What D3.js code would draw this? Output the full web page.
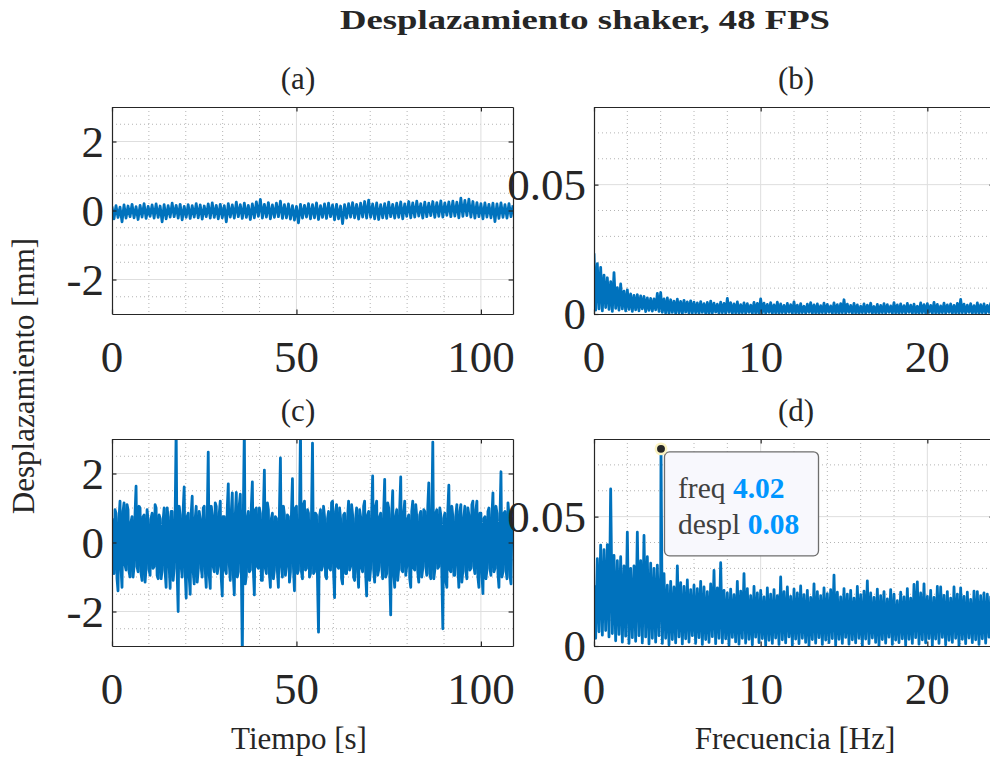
<!DOCTYPE html>
<html>
<head>
<meta charset="utf-8">
<script src="https://cdn.jsdelivr.net/npm/d3@7"></script>
<style>
  body { margin: 0; background: #ffffff; }
  svg text { font-family: "Liberation Serif", "Times New Roman", serif; fill: #262626; }
</style>
</head>
<body>
<svg id="fig" width="990" height="759"></svg>
<script>
// ---- text ----
const figTitle = "Desplazamiento shaker, 48 FPS";
const panelLabels = ["(a)", "(b)", "(c)", "(d)"];
const timeLabel = "Tiempo [s]";
const freqLabel = "Frecuencia [Hz]";
const dispLabel = "Desplazamiento [mm]";

// ---- axes ----
const duration = 108.7;      // record length [s]
const freqStep = 0.1;        // spectral resolution of the stored samples [Hz]
const freqMax = 24;          // Nyquist at 48 FPS [Hz]
const timeTicks = [0, 50, 100];
const dispTicks = [-2, 0, 2];
const freqTicks = [0, 10, 20];
const ampTicks = [0, 0.05];

// ---- (a) displacement, time domain [mm] ----
const dispA = [
  0.12,-0.24,0.14,-0.20,0.10,-0.33,0.16,-0.22,0.13,-0.18,
  0.18,-0.21,0.11,-0.26,0.15,-0.19,0.20,-0.23,0.12,-0.17,
  0.16,-0.22,0.19,-0.20,0.13,-0.33,0.17,-0.24,0.14,-0.19,
  0.21,-0.18,0.15,-0.22,0.18,-0.27,0.12,-0.20,0.17,-0.23,
  0.14,-0.19,0.20,-0.21,0.16,-0.25,0.13,-0.18,0.19,-0.22,
  0.22,-0.20,0.15,-0.24,0.18,-0.21,0.14,-0.33,0.20,-0.19,
  0.16,-0.22,0.24,-0.18,0.17,-0.23,0.21,-0.20,0.15,-0.26,
  0.19,-0.21,0.25,-0.17,0.32,-0.22,0.18,-0.19,0.23,-0.24,
  0.16,-0.20,0.21,-0.18,0.27,-0.23,0.17,-0.21,0.19,-0.25,
  0.14,-0.28,0.12,-0.36,0.18,-0.22,0.15,-0.19,0.20,-0.24,
  0.17,-0.21,0.22,-0.26,0.14,-0.20,0.19,-0.23,0.21,-0.18,
  0.16,-0.27,0.18,-0.24,0.13,-0.38,0.17,-0.22,0.20,-0.19,
  0.23,-0.21,0.18,-0.25,0.21,-0.19,0.26,-0.22,0.30,-0.20,
  0.19,-0.24,0.22,-0.26,0.17,-0.21,0.20,-0.23,0.24,-0.18,
  0.18,-0.22,0.21,-0.20,0.25,-0.24,0.19,-0.17,0.26,-0.21,
  0.22,-0.19,0.27,-0.16,0.20,-0.22,0.24,-0.18,0.21,-0.15,
  0.26,-0.20,0.23,-0.17,0.28,-0.19,0.22,-0.14,0.25,-0.18,
  0.27,-0.16,0.24,-0.21,0.36,-0.17,0.29,-0.15,0.33,-0.19,
  0.26,-0.22,0.23,-0.18,0.20,-0.24,0.22,-0.19,0.18,-0.21,
  0.21,-0.32,0.19,-0.23,0.22,-0.20,0.17,-0.22,0.20,-0.18,
  0.15
];

// ---- (c) displacement, time domain [mm] ----
const dispC = [
  0.70,-0.80,-0.90,0.95,0.85,-1.05,-1.40,0.70,1.20,-0.75,-1.30,0.90,1.15,-0.65,-0.80,1.10,0.95,-0.85,-1.00,0.60,
  0.75,-1.00,-0.70,0.85,1.63,-0.70,-0.85,1.05,1.00,-0.90,-1.10,0.75,0.80,-1.15,-0.75,0.95,0.65,-0.80,-0.95,0.70,
  0.85,-0.75,-0.70,1.10,1.00,-0.95,-1.05,0.80,0.70,-1.05,-0.80,0.65,1.00,-0.85,-1.30,1.00,0.75,-0.70,-1.33,0.90,
  0.90,-1.10,-0.75,0.80,3.30,-0.90,-2.00,1.05,0.80,-0.70,-1.00,0.95,1.61,-0.85,-1.61,0.75,0.85,-1.00,-1.50,0.85,
  1.34,-0.85,-1.20,0.70,1.05,-1.15,-0.80,0.90,0.70,-0.75,-1.00,1.00,1.05,-0.80,-1.30,0.65,2.62,-0.95,-1.33,1.05,
  0.80,-0.70,-0.85,1.15,1.05,-0.90,-0.70,0.85,1.20,-1.05,-1.55,0.75,0.75,-0.80,-0.90,1.00,1.70,-0.65,-1.10,0.90,
  1.44,-0.95,-1.52,0.80,1.45,-1.00,-0.85,1.10,1.40,-0.75,-3.30,0.85,3.30,-1.20,-0.95,0.70,0.90,-0.85,-0.80,1.05,
  1.76,-0.80,-1.52,0.95,1.00,-0.70,-0.75,1.00,0.85,-1.10,-1.10,0.85,2.10,-0.75,-0.90,1.15,0.95,-0.90,-1.30,0.70,
  0.85,-1.05,-0.80,0.75,0.70,-0.85,-1.30,0.90,2.45,-0.70,-1.00,1.05,0.80,-0.95,-0.70,0.80,0.75,-1.15,-0.85,0.85,
  1.85,-0.75,-1.40,1.00,1.05,-0.90,-0.80,0.70,3.30,-0.85,-1.05,1.10,1.20,-0.80,-0.75,0.95,0.85,-1.00,-0.90,0.75,
  2.88,-0.90,-0.85,0.85,0.80,-1.10,-2.60,0.75,0.95,-0.80,-0.70,1.05,0.75,-0.95,-1.05,0.70,0.90,-0.75,-0.80,1.15,
  1.20,-0.85,-1.60,0.90,1.10,-0.70,-0.75,1.00,0.70,-1.05,-1.20,0.80,0.85,-0.90,-0.90,0.75,1.20,-0.80,-0.70,1.10,
  0.80,-1.00,-1.10,0.70,1.00,-0.85,-1.30,0.95,0.75,-0.75,-0.85,1.05,1.20,-0.90,-1.55,0.80,0.90,-1.10,-0.75,0.85,
  1.93,-0.80,-1.15,1.05,1.20,-0.95,-0.80,0.75,0.85,-0.70,-1.05,0.90,1.83,-1.00,-0.90,1.15,1.00,-0.85,-2.10,0.80,
  1.50,-0.90,-1.30,0.75,0.95,-1.10,-0.75,1.00,1.90,-0.80,-0.85,0.85,1.20,-0.95,-0.70,0.70,0.80,-1.05,-1.30,0.90,
  1.20,-0.75,-0.80,1.10,0.75,-0.85,-1.15,0.80,0.90,-1.00,-0.75,0.95,0.90,-0.70,-0.95,1.05,1.73,-0.90,-1.05,0.75,
  2.91,-1.05,-0.80,0.85,0.95,-0.75,-0.70,1.00,0.80,-0.90,-2.50,0.70,0.85,-1.10,-1.30,0.95,1.66,-0.80,-0.85,1.05,
  0.75,-0.95,-0.95,0.80,1.10,-0.70,-1.30,0.90,1.10,-1.15,-0.80,0.75,1.05,-0.85,-1.05,1.00,0.80,-0.80,-0.75,1.10,
  1.20,-0.70,-0.90,0.95,1.20,-1.00,-1.30,0.85,0.85,-0.90,-1.48,0.70,0.75,-1.05,-0.80,0.90,1.00,-0.75,-0.95,0.80,
  1.44,-0.85,-0.75,1.05,0.85,-0.90,-1.30,0.75,2.05,-1.00,-0.85,0.85,0.90,-0.80,-1.05,1.15,0.80,-0.95,-1.20,0.70,
  0.60
];

// ---- (b) amplitude spectrum of (a) [mm], one value per freqStep ----
const specB = [
  0.0235,0.0015,0.0195,0.0020,0.0180,0.0012,0.0150,0.0025,0.0140,0.0018,
  0.0125,0.0010,0.0160,0.0022,0.0102,0.0015,0.0116,0.0020,0.0088,0.0012,
  0.0093,0.0018,0.0078,0.0010,0.0072,0.0016,0.0075,0.0012,0.0070,0.0020,
  0.0068,0.0009,0.0062,0.0014,0.0060,0.0011,0.0058,0.0016,0.0080,0.0010,
  0.0083,0.0006,0.0058,0.0004,0.0062,0.0002,0.0055,0.0006,0.0050,0.0003,
  0.0057,0.0005,0.0049,0.0002,0.0053,0.0007,0.0047,0.0003,0.0051,0.0004,
  0.0046,0.0005,0.0043,0.0002,0.0048,0.0006,0.0040,0.0003,0.0045,0.0001,
  0.0050,0.0004,0.0042,0.0007,0.0038,0.0002,0.0046,0.0005,0.0041,0.0003,
  0.0060,0.0006,0.0044,0.0002,0.0039,0.0004,0.0047,0.0001,0.0036,0.0005,
  0.0043,0.0003,0.0040,0.0006,0.0034,0.0002,0.0045,0.0004,0.0041,0.0001,
  0.0058,0.0005,0.0042,0.0003,0.0037,0.0006,0.0044,0.0002,0.0035,0.0004,
  0.0046,0.0001,0.0039,0.0005,0.0033,0.0003,0.0041,0.0006,0.0036,0.0002,
  0.0047,0.0004,0.0034,0.0001,0.0040,0.0005,0.0030,0.0003,0.0038,0.0006,
  0.0044,0.0002,0.0035,0.0004,0.0039,0.0001,0.0032,0.0005,0.0042,0.0003,
  0.0037,0.0006,0.0031,0.0002,0.0043,0.0004,0.0036,0.0001,0.0040,0.0005,
  0.0055,0.0003,0.0038,0.0006,0.0033,0.0002,0.0041,0.0004,0.0035,0.0001,
  0.0030,0.0005,0.0039,0.0003,0.0034,0.0006,0.0042,0.0002,0.0029,0.0004,
  0.0037,0.0001,0.0033,0.0005,0.0040,0.0003,0.0036,0.0006,0.0031,0.0002,
  0.0044,0.0004,0.0035,0.0001,0.0039,0.0005,0.0032,0.0003,0.0041,0.0006,
  0.0034,0.0002,0.0038,0.0004,0.0030,0.0001,0.0043,0.0005,0.0036,0.0003,
  0.0040,0.0006,0.0033,0.0002,0.0045,0.0004,0.0037,0.0001,0.0031,0.0005,
  0.0042,0.0003,0.0035,0.0006,0.0039,0.0002,0.0033,0.0004,0.0041,0.0001,
  0.0056,0.0005,0.0038,0.0003,0.0034,0.0006,0.0040,0.0002,0.0032,0.0004,
  0.0043,0.0001,0.0036,0.0005,0.0039,0.0003,0.0033,0.0006,0.0041,0.0002,
  0.0037
];

// ---- (d) amplitude spectrum of (c) [mm], one value per freqStep ----
const specD = [
  0.0235,0.0030,0.0338,0.0055,0.0390,0.0042,0.0372,0.0060,0.0392,0.0035,
  0.0607,0.0048,0.0350,0.0020,0.0330,0.0045,0.0345,0.0015,0.0310,0.0038,
  0.0440,0.0010,0.0300,0.0032,0.0310,0.0018,0.0440,0.0040,0.0330,0.0012,
  0.0427,0.0035,0.0345,0.0008,0.0320,0.0030,0.0300,0.0015,0.0312,0.0040,
  0.0290,0.0010,0.0280,0.0030,0.0235,0.0005,0.0250,0.0025,0.0228,0.0012,
  0.0310,0.0035,0.0245,0.0008,0.0230,0.0028,0.0255,0.0015,0.0218,0.0040,
  0.0235,0.0010,0.0222,0.0032,0.0250,0.0006,0.0228,0.0025,0.0210,0.0014,
  0.0240,0.0036,0.0292,0.0009,0.0225,0.0030,0.0322,0.0012,0.0215,0.0028,
  0.0205,0.0004,0.0220,0.0033,0.0198,0.0016,0.0250,0.0007,0.0212,0.0030,
  0.0280,0.0011,0.0222,0.0026,0.0195,0.0005,0.0230,0.0034,0.0205,0.0013,
  0.0215,0.0029,0.0190,0.0003,0.0225,0.0022,0.0200,0.0010,0.0218,0.0031,
  0.0195,0.0006,0.0267,0.0024,0.0210,0.0012,0.0228,0.0035,0.0192,0.0004,
  0.0220,0.0027,0.0205,0.0009,0.0232,0.0030,0.0198,0.0014,0.0215,0.0002,
  0.0188,0.0025,0.0240,0.0011,0.0210,0.0032,0.0195,0.0006,0.0225,0.0023,
  0.0202,0.0013,0.0218,0.0029,0.0274,0.0004,0.0208,0.0026,0.0190,0.0010,
  0.0222,0.0033,0.0200,0.0007,0.0215,0.0024,0.0185,0.0012,0.0230,0.0030,
  0.0198,0.0003,0.0212,0.0027,0.0252,0.0009,0.0205,0.0031,0.0188,0.0014,
  0.0220,0.0002,0.0195,0.0025,0.0210,0.0011,0.0182,0.0034,0.0218,0.0006,
  0.0200,0.0023,0.0175,0.0013,0.0208,0.0028,0.0190,0.0004,0.0222,0.0026,
  0.0185,0.0010,0.0238,0.0032,0.0248,0.0007,0.0205,0.0024,0.0240,0.0012,
  0.0192,0.0029,0.0215,0.0003,0.0188,0.0027,0.0230,0.0010,0.0228,0.0033,
  0.0196,0.0005,0.0210,0.0022,0.0185,0.0014,0.0228,0.0030,0.0200,0.0002,
  0.0225,0.0026,0.0192,0.0009,0.0208,0.0031,0.0180,0.0013,0.0212,0.0024,
  0.0210,0.0006,0.0195,0.0028,0.0205,0.0011,0.0200,0.0034,0.0190,0.0004,
  0.0205
];

// data tip on the dominant component of (d)
const tipFreq = 4.02;     // Hz
const tipDespl = 0.0762;  // mm

// ---- series as [x, y] pairs ----
const timeSeries = vals => vals.map((v, i) => [i * duration / (vals.length - 1), v]);
const freqSeries = vals => vals.map((v, i) => [i * freqStep, v]);

const seriesA = timeSeries(dispA);
const seriesC = timeSeries(dispC);
const seriesB = freqSeries(specB);
const seriesD = freqSeries(specD).concat([[tipFreq, tipDespl]]).sort((p, q) => p[0] - q[0]);

// ---- figure ----
const svg = d3.select("#fig");
const lineColor = "#0072BD";
const axisColor = "#262626";
let clipId = 0;

function panel(cfg) {
  const { left, top, width, height } = cfg.box;
  const x = d3.scaleLinear().domain(cfg.xDomain).range([left, left + width]);
  const y = d3.scaleLinear().domain(cfg.yDomain).range([top + height, top]);
  const g = svg.append("g");

  // minor grid (dotted)
  const xMinor = d3.range(cfg.xDomain[0], cfg.xDomain[1] + 1e-9, cfg.xMinorStep)
    .filter(v => v > cfg.xDomain[0] + 1e-9 && v < cfg.xDomain[1] - 1e-9 && !cfg.xTicks.some(t => Math.abs(t - v) < 1e-9));
  const yMinor = d3.range(cfg.yDomain[0], cfg.yDomain[1] + 1e-9, cfg.yMinorStep)
    .map(v => +v.toFixed(6))
    .filter(v => v > cfg.yDomain[0] + 1e-9 && v < cfg.yDomain[1] - 1e-9 && !cfg.yTicks.some(t => Math.abs(t - v) < 1e-9));
  g.selectAll(".xminor").data(xMinor).join("line")
    .attr("x1", d => x(d)).attr("x2", d => x(d)).attr("y1", top).attr("y2", top + height)
    .attr("stroke", "#b4b4b4").attr("stroke-width", 1).attr("stroke-dasharray", "1,3");
  g.selectAll(".yminor").data(yMinor).join("line")
    .attr("x1", left).attr("x2", left + width).attr("y1", d => y(d)).attr("y2", d => y(d))
    .attr("stroke", "#b4b4b4").attr("stroke-width", 1).attr("stroke-dasharray", "1,3");

  // major grid
  g.selectAll(".xmajor").data(cfg.xTicks.filter(v => v > cfg.xDomain[0])).join("line")
    .attr("x1", d => x(d)).attr("x2", d => x(d)).attr("y1", top).attr("y2", top + height)
    .attr("stroke", "#dedede").attr("stroke-width", 1);
  g.selectAll(".ymajor").data(cfg.yTicks.filter(v => v > cfg.yDomain[0])).join("line")
    .attr("x1", left).attr("x2", left + width).attr("y1", d => y(d)).attr("y2", d => y(d))
    .attr("stroke", "#dedede").attr("stroke-width", 1);

  // data
  const id = "clip" + (clipId++);
  svg.append("clipPath").attr("id", id).append("rect")
    .attr("x", left).attr("y", top).attr("width", width).attr("height", height);
  g.append("path")
    .datum(cfg.series)
    .attr("clip-path", `url(#${id})`)
    .attr("fill", "none").attr("stroke", lineColor).attr("stroke-width", 2.8)
    .attr("stroke-linejoin", "round")
    .attr("d", d3.line().x(d => x(d[0])).y(d => y(d[1])));

  // axes: box with inward ticks on all sides
  const tl = 4.5;
  const axB = g.append("g").attr("transform", `translate(0,${top + height})`)
    .call(d3.axisBottom(x).tickValues(cfg.xTicks).tickSizeInner(-tl).tickSizeOuter(0).tickFormat(""));
  const axT = g.append("g").attr("transform", `translate(0,${top})`)
    .call(d3.axisTop(x).tickValues(cfg.xTicks).tickSizeInner(-tl).tickSizeOuter(0).tickFormat(""));
  const axL = g.append("g").attr("transform", `translate(${left},0)`)
    .call(d3.axisLeft(y).tickValues(cfg.yTicks).tickSizeInner(-tl).tickSizeOuter(0).tickFormat(""));
  const axR = g.append("g").attr("transform", `translate(${left + width},0)`)
    .call(d3.axisRight(y).tickValues(cfg.yTicks).tickSizeInner(-tl).tickSizeOuter(0).tickFormat(""));
  [axB, axT, axL, axR].forEach(a => {
    a.selectAll("path").attr("stroke", axisColor).attr("stroke-width", 1.2);
    a.selectAll("line").attr("stroke", axisColor).attr("stroke-width", 1.2);
  });

  // tick labels
  g.selectAll(".xtl").data(cfg.xTicks).join("text")
    .attr("x", d => x(d)).attr("y", top + height + 58)
    .attr("text-anchor", "middle").attr("font-size", 45)
    .text(cfg.xFormat);
  g.selectAll(".ytl").data(cfg.yTicks).join("text")
    .attr("x", left - 8).attr("y", d => y(d)).attr("dy", "0.34em")
    .attr("text-anchor", "end").attr("font-size", 45)
    .text(cfg.yFormat);

  // panel label
  g.append("text").attr("x", cfg.labelX).attr("y", top - 18)
    .attr("text-anchor", "middle").attr("font-size", 31).text(cfg.label);

  return { x, y };
}

const intFmt = d => String(d);
const ampFmt = d => d === 0 ? "0" : d3.format(".2f")(d);

panel({ box: { left: 112, top: 107, width: 401, height: 207 }, xDomain: [0, duration], yDomain: [-3, 3],
  xTicks: timeTicks, yTicks: dispTicks, xMinorStep: 10, yMinorStep: 0.5,
  xFormat: intFmt, yFormat: intFmt, series: seriesA, label: panelLabels[0], labelX: 298 });
panel({ box: { left: 594, top: 107, width: 400, height: 207 }, xDomain: [0, freqMax], yDomain: [0, 0.08],
  xTicks: freqTicks, yTicks: ampTicks, xMinorStep: 2, yMinorStep: 0.01,
  xFormat: intFmt, yFormat: ampFmt, series: seriesB, label: panelLabels[1], labelX: 796 });
panel({ box: { left: 112, top: 439, width: 401, height: 207 }, xDomain: [0, duration], yDomain: [-3, 3],
  xTicks: timeTicks, yTicks: dispTicks, xMinorStep: 10, yMinorStep: 0.5,
  xFormat: intFmt, yFormat: intFmt, series: seriesC, label: panelLabels[2], labelX: 298 });
const pd = panel({ box: { left: 594, top: 439, width: 400, height: 207 }, xDomain: [0, freqMax], yDomain: [0, 0.08],
  xTicks: freqTicks, yTicks: ampTicks, xMinorStep: 2, yMinorStep: 0.01,
  xFormat: intFmt, yFormat: ampFmt, series: seriesD, label: panelLabels[3], labelX: 796 });

// ---- data tip ----
const tx = pd.x(tipFreq), ty = pd.y(tipDespl);
const tip = svg.append("g");
tip.append("rect")
  .attr("x", tx + 3.5).attr("y", ty + 3).attr("width", 154).attr("height", 104).attr("rx", 5)
  .attr("fill", "#f8f8fd").attr("stroke", "#6e6e6e").attr("stroke-width", 1.3);
tip.append("circle").attr("cx", tx).attr("cy", ty).attr("r", 5.2)
  .attr("fill", "#262626").attr("stroke", "#fbf3c2").attr("stroke-width", 2.5);
const tipRows = [["freq", d3.format(".2f")(tipFreq)], ["despl", d3.format(".2f")(tipDespl)]];
tipRows.forEach((row, k) => {
  const t = tip.append("text").attr("x", tx + 17).attr("y", ty + 49 + k * 36).attr("font-size", 29.5);
  t.append("tspan").style("fill", "#404040").text(row[0] + " ");
  t.append("tspan").style("fill", "#0096ff").attr("font-weight", "bold").text(row[1]);
});

// ---- titles and axis labels ----
svg.append("text").attr("x", 585).attr("y", 29).attr("text-anchor", "middle")
  .attr("font-size", 27).attr("font-weight", "bold")
  .attr("textLength", 490).attr("lengthAdjust", "spacingAndGlyphs")
  .text(figTitle);
svg.append("text").attr("transform", "translate(34,376) rotate(-90)")
  .attr("text-anchor", "middle").attr("font-size", 31).text(dispLabel);
svg.append("text").attr("x", 299).attr("y", 749).attr("text-anchor", "middle")
  .attr("font-size", 31).text(timeLabel);
svg.append("text").attr("x", 795).attr("y", 749).attr("text-anchor", "middle")
  .attr("font-size", 31).text(freqLabel);
</script>
</body>
</html>
